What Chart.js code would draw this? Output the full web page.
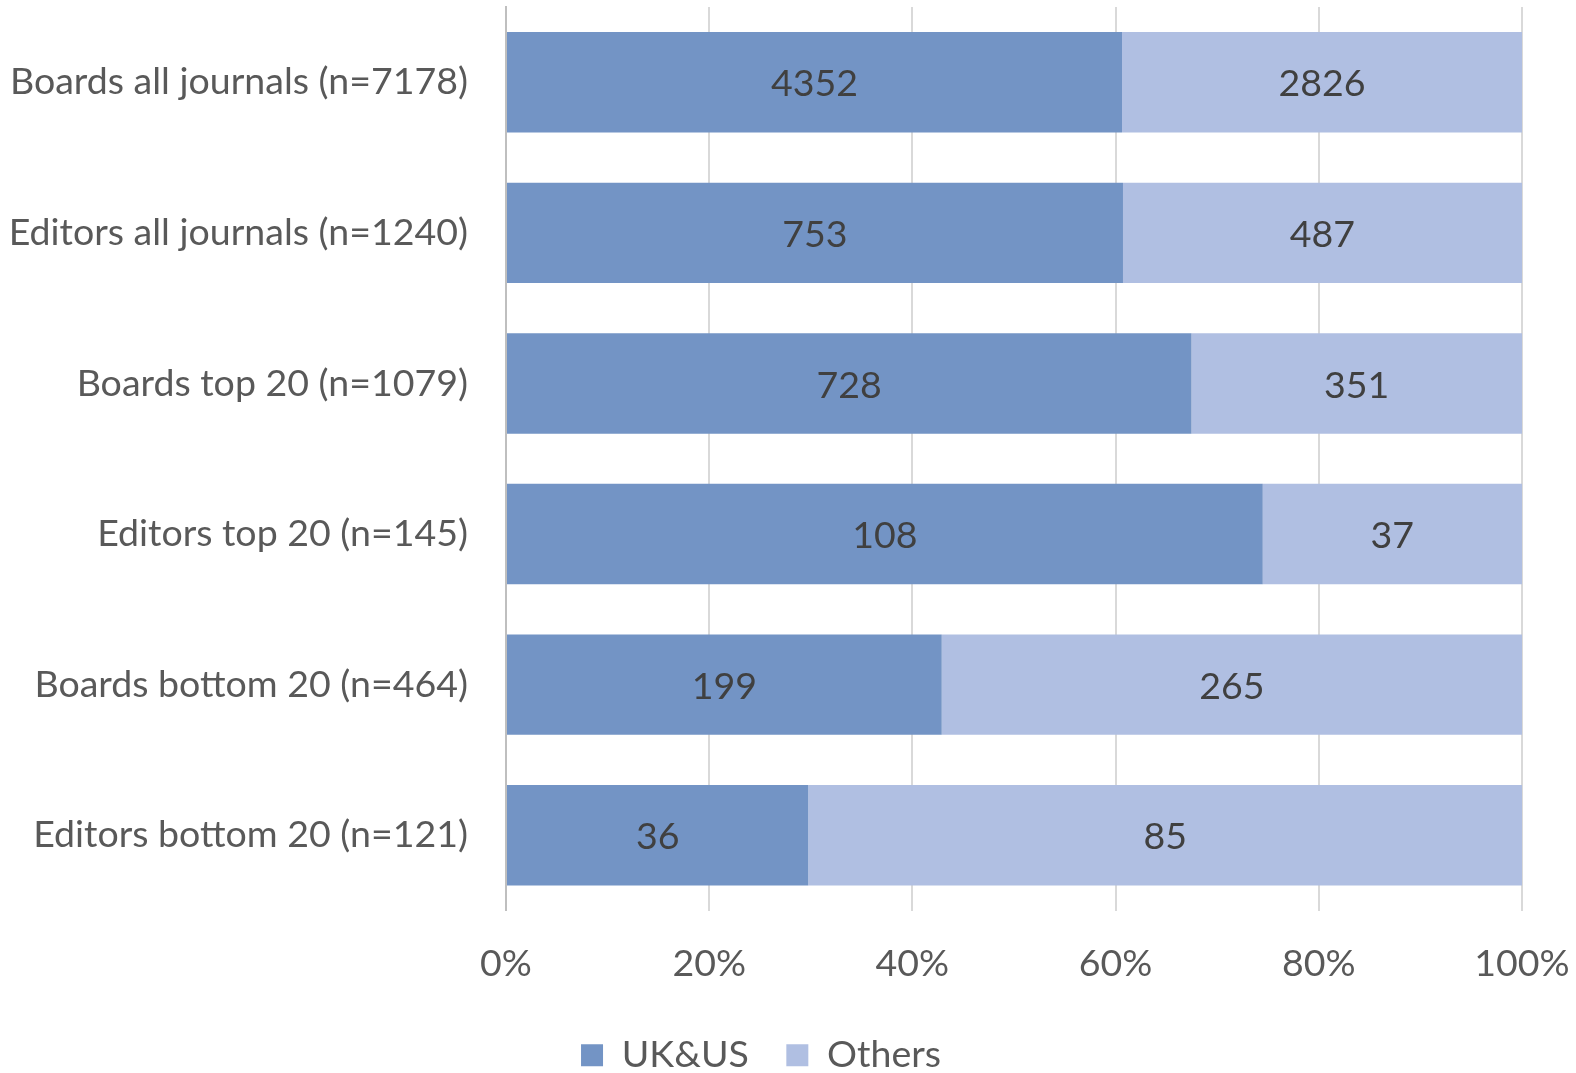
<!DOCTYPE html>
<html lang="en">

<head>
    <meta charset="UTF-8">
    <title>UK&amp;US vs Others</title>
    <script src="https://cdn.jsdelivr.net/npm/chart.js"></script>
    <style>
        body { margin: 0; background: #ffffff; }
    </style>
</head>

<body>
    <canvas id="shareChart" width="1576" height="1073"></canvas>

    <script>
        const categories = [
            'Boards all journals (n=7178)',
            'Editors all journals (n=1240)',
            'Boards top 20 (n=1079)',
            'Editors top 20 (n=145)',
            'Boards bottom 20 (n=464)',
            'Editors bottom 20 (n=121)'
        ];
        const ukUs = [4352, 753, 728, 108, 199, 36];
        const others = [2826, 487, 351, 37, 265, 85];
        const xTicks = ['0%', '20%', '40%', '60%', '80%', '100%'];

        const FONT = "Lato, sans-serif";
        const SIZE = 37.5;

        // 100% stacked: plot shares, keep counts for the labels
        const totals = ukUs.map((v, i) => v + others[i]);
        const share = (arr) => arr.map((v, i) => v / totals[i]);

        const barLabels = {
            id: 'barLabels',
            afterDatasetsDraw(chart) {
                const ctx = chart.ctx;
                ctx.save();
                ctx.font = SIZE + 'px ' + FONT;
                ctx.fillStyle = '#404040';
                ctx.textAlign = 'center';
                ctx.textBaseline = 'middle';
                chart.data.datasets.forEach((ds, di) => {
                    chart.getDatasetMeta(di).data.forEach((bar, i) => {
                        const cx = (bar.x + bar.base) / 2;
                        ctx.fillText(String(ds.counts[i]), cx, bar.y + 2);
                    });
                });
                ctx.restore();
            }
        };

        const ctx = document.getElementById('shareChart').getContext('2d');
        new Chart(ctx, {
            type: 'bar',
            data: {
                labels: categories,
                datasets: [{
                    label: 'UK&US',
                    data: share(ukUs),
                    counts: ukUs,
                    backgroundColor: '#7394c5',
                    categoryPercentage: 1,
                    barPercentage: 0.667
                }, {
                    label: 'Others',
                    data: share(others),
                    counts: others,
                    backgroundColor: '#b0bfe2',
                    categoryPercentage: 1,
                    barPercentage: 0.667
                }]
            },
            options: {
                indexAxis: 'y',
                responsive: false,
                animation: false,
                layout: { padding: { top: 7, right: 54, left: 0, bottom: -11 } },
                scales: {
                    x: {
                        stacked: true,
                        min: 0,
                        max: 1,
                        z: 1,
                        grid: {
                            color: 'rgba(0, 0, 0, 0.15)',
                            lineWidth: 2,
                            drawTicks: false
                        },
                        border: { display: false },
                        ticks: {
                            stepSize: 0.2,
                            padding: 31,
                            color: '#595959',
                            font: { family: FONT, size: SIZE },
                            callback: (v, i) => xTicks[i]
                        },
                        afterFit(scale) {
                            scale.height += 19;
                            scale.paddingLeft = 0;
                            scale.paddingRight = 0;
                        }
                    },
                    y: {
                        stacked: true,
                        grid: { display: false, drawTicks: false },
                        border: { display: true, color: '#bfbfbf', width: 2 },
                        ticks: {
                            padding: 38,
                            color: '#595959',
                            font: { family: FONT, size: SIZE }
                        },
                        afterFit(scale) {
                            scale.width = 506;
                            scale.paddingTop = 0;
                            scale.paddingBottom = 0;
                        }
                    }
                },
                plugins: {
                    legend: {
                        position: 'bottom',
                        labels: {
                            color: '#595959',
                            font: { family: FONT, size: SIZE },
                            boxWidth: 22,
                            boxHeight: 22,
                            padding: 0,
                            // padding 0 keeps the legend low; space items with en spaces instead
                            generateLabels(chart) {
                                const items = Chart.defaults.plugins.legend.labels.generateLabels(chart);
                                return items.map((it, i) => {
                                    if (i < items.length - 1) it.text += '\u2002\u2002';
                                    return it;
                                });
                            }
                        }
                    },
                    tooltip: { enabled: false }
                }
            },
            plugins: [barLabels]
        });
    </script>

</body>

</html>
